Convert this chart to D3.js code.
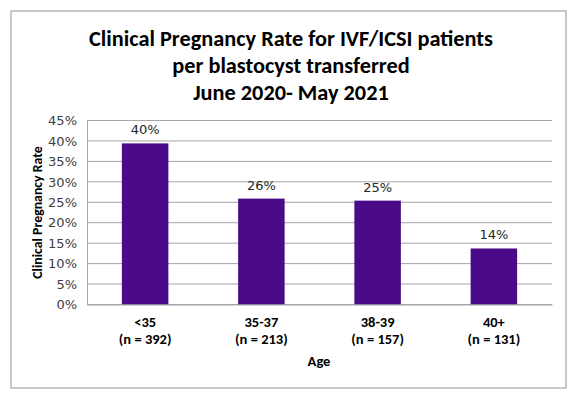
<!DOCTYPE html>
<html><head><meta charset="utf-8">
<script src="https://cdn.jsdelivr.net/npm/d3@7"></script>
<style>body{margin:0;background:#fff}svg{display:block}</style>
</head><body>
<script>
const categories = ["<35", "35-37", "38-39", "40+"];
const sampleSizes = ["(n = 392)", "(n = 213)", "(n = 157)", "(n = 131)"];
const rates = [0.394, 0.259, 0.254, 0.137];
const rateLabels = ["40%", "26%", "25%", "14%"];
const yTicks = [0, 0.05, 0.10, 0.15, 0.20, 0.25, 0.30, 0.35, 0.40, 0.45];
const titleLines = ["Clinical Pregnancy Rate for IVF/ICSI patients", "per blastocyst transferred", "June 2020- May 2021"];

const W = 582, H = 397;
const font = "Carlito, Calibri, Lato, 'Open Sans', sans-serif";
const svg = d3.select("body").append("svg").attr("width", W).attr("height", H);

svg.append("rect").attr("x", 11).attr("y", 11).attr("width", 555).attr("height", 377)
  .attr("fill", "#fff").attr("stroke", "#a6a6a6").attr("stroke-width", 1.2);

const m = {left: 87, right: 552, top: 120.5, bottom: 304.5};
const x = d3.scaleBand().domain(categories).range([m.left, m.right]).paddingInner(0.6).paddingOuter(0.3);
const y = d3.scaleLinear().domain([0, 0.45]).range([m.bottom, m.top]);

// gridlines
svg.append("g").selectAll("line").data(yTicks).join("line")
  .attr("x1", m.left).attr("x2", m.right)
  .attr("y1", d => y(d)).attr("y2", d => y(d))
  .attr("stroke", "#a6a6a6").attr("stroke-width", 1);

// y axis
const yAxis = svg.append("g").attr("transform", `translate(${m.left},0)`)
  .call(d3.axisLeft(y).tickValues(yTicks).tickFormat(d3.format(".0%")).tickSize(0).tickPadding(10));
yAxis.select(".domain").attr("stroke", "#a6a6a6");
yAxis.selectAll("text").attr("font-family", "Verdana, 'DejaVu Sans', sans-serif").attr("font-size", 13)
  .attr("fill", "#404040");

// bars
svg.append("g").selectAll("rect").data(rates).join("rect")
  .attr("x", (d, i) => x(categories[i])).attr("width", x.bandwidth())
  .attr("y", d => y(d)).attr("height", d => y(0) - y(d))
  .attr("fill", "#4b0a87");

// data labels
svg.append("g").selectAll("text").data(rates).join("text")
  .attr("x", (d, i) => x(categories[i]) + x.bandwidth() / 2)
  .attr("y", d => y(d) - 9)
  .attr("text-anchor", "middle").attr("font-family", "Verdana, 'DejaVu Sans', sans-serif")
  .attr("font-size", 13).attr("fill", "#262626")
  .text((d, i) => rateLabels[i]);

// x axis
const xAxis = svg.append("g").attr("transform", `translate(0,${m.bottom})`)
  .call(d3.axisBottom(x).tickSize(0).tickFormat(""));
xAxis.select(".domain").attr("stroke", "#a6a6a6");
xAxis.selectAll(".tick").each(function(d, i) {
  const t = d3.select(this).append("text").attr("fill", "#000").attr("font-family", font)
    .attr("font-weight", "bold").attr("font-size", 14.5).attr("text-anchor", "middle");
  t.append("tspan").attr("x", 0).attr("y", 22).text(categories[i]);
  t.append("tspan").attr("x", 0).attr("y", 39).text(sampleSizes[i]);
});

// axis titles
svg.append("text").attr("x", 319).attr("y", 366).attr("text-anchor", "middle")
  .attr("font-family", font).attr("font-weight", "bold").attr("font-size", 14.5).text("Age");
svg.append("text").attr("transform", `translate(42,${(m.top + m.bottom) / 2}) rotate(-90)`)
  .attr("text-anchor", "middle").attr("font-family", font).attr("font-weight", "bold")
  .attr("font-size", 13.8).text("Clinical Pregnancy Rate");

// title
svg.append("g").selectAll("text").data(titleLines).join("text")
  .attr("x", 291).attr("y", (d, i) => 46 + i * 27)
  .attr("text-anchor", "middle").attr("font-family", font).attr("font-weight", "bold")
  .attr("font-size", 22.3).attr("fill", "#000").text(d => d);
</script>
</body></html>
